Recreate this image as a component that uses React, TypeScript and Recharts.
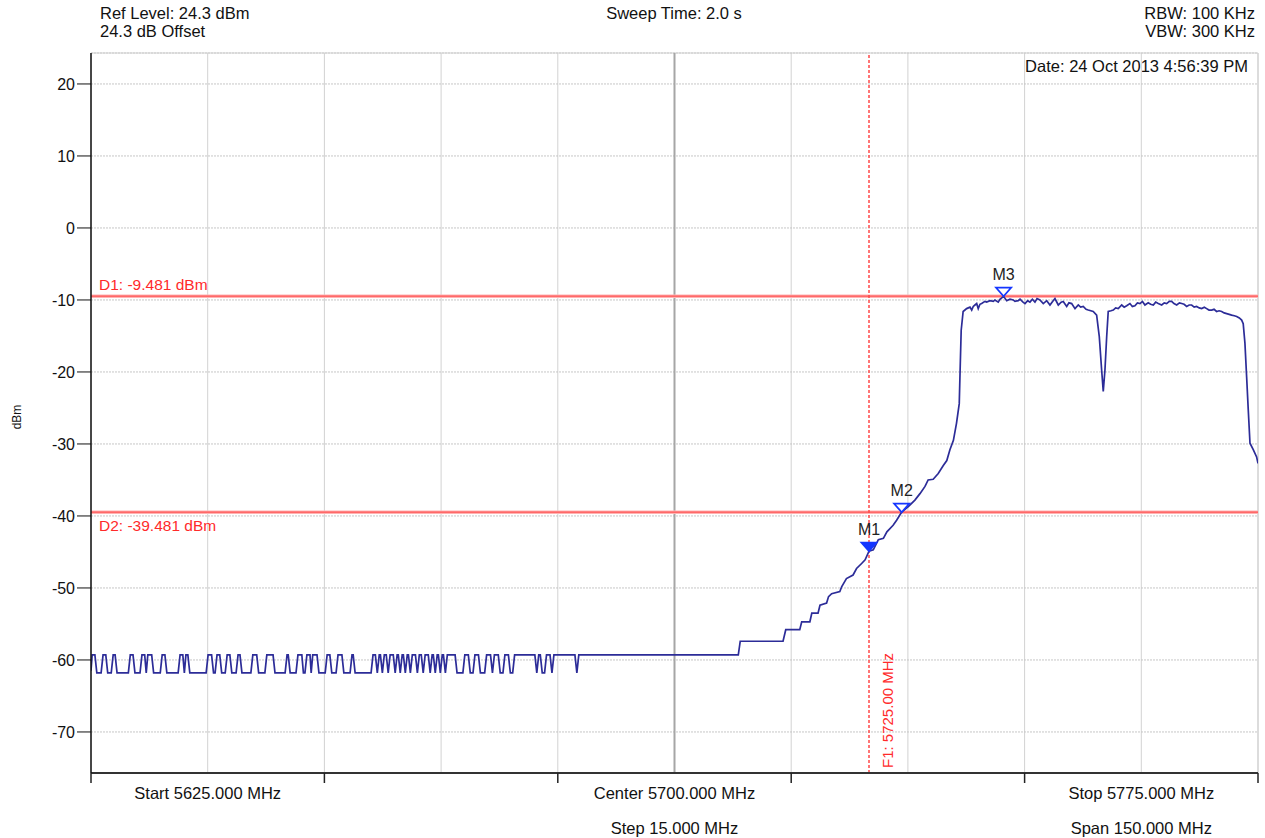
import React from 'react'
import {
  ComposedChart,
  Line,
  Scatter,
  XAxis,
  YAxis,
  CartesianGrid,
  ReferenceLine,
} from 'recharts'

const FONT = '"Liberation Sans", Arial, sans-serif'

// sweep span, MHz
const START_MHZ = 5625
const STOP_MHZ = 5775
const gridFreqs = [5625, 5640, 5655, 5670, 5685, 5700, 5715, 5730, 5745, 5760, 5775]
const majorFreqs = [5625, 5655, 5685, 5715, 5745, 5775]
const labelFreqs = [5640, 5700, 5760]
const labelTop = ['Start 5625.000 MHz', 'Center 5700.000 MHz', 'Stop 5775.000 MHz']
const labelBottom = ['', 'Step 15.000 MHz', 'Span 150.000 MHz']

// amplitude, dBm
const REF_LEVEL = 24.3
const BOTTOM_LEVEL = -75.7
const levelTicks = [20, 10, 0, -10, -20, -30, -40, -50, -60, -70]

const headerLeft = ['Ref Level: 24.3 dBm', '24.3 dB Offset']
const headerCenter = 'Sweep Time: 2.0 s'
const headerRight = ['RBW: 100 KHz', 'VBW: 300 KHz']
const dateText = 'Date: 24 Oct 2013 4:56:39 PM'

// display lines
const deltaNames = ['D1: -9.481 dBm', 'D2: -39.481 dBm']
const deltaLevels = [-9.481, -39.481]
const f1Freq = 5725
const f1Label = 'F1: 5725.00 MHz'

// markers
const markerNames = ['M1', 'M2', 'M3']
const markerFreqs = [5725.0, 5729.2, 5742.3]
const markerLevels = [-44.9, -39.481, -9.481]
const markerFilled = [true, false, false]

// trace, [MHz, dBm]
const floorTrace: [number, number][] = [
  [5625.0, -61.5], [5625.15, -59.3], [5625.5, -59.3], [5625.75, -61.8],
  [5626.3, -61.8], [5626.55, -59.3], [5626.9, -59.3], [5627.15, -61.8],
  [5627.6, -61.8], [5627.85, -59.3], [5628.1, -59.3], [5628.35, -61.8],
  [5629.8, -61.8], [5630.05, -59.3], [5630.4, -59.3], [5630.65, -61.8],
  [5631.3, -61.8], [5631.55, -59.3], [5631.9, -59.3], [5632.1, -61.8], [5632.3, -59.3], [5632.8, -59.3], [5633.05, -61.8],
  [5633.9, -61.8], [5634.15, -59.3], [5634.5, -59.3], [5634.75, -61.8],
  [5636.2, -61.8], [5636.45, -59.3], [5636.8, -59.3], [5637.0, -61.8], [5637.2, -59.3], [5637.45, -59.3], [5637.7, -61.8],
  [5639.8, -61.8], [5640.05, -59.3], [5640.5, -59.3], [5640.75, -61.8], [5640.95, -61.8], [5641.2, -59.3], [5641.55, -59.3], [5641.8, -61.8],
  [5642.25, -61.8], [5642.5, -59.3], [5642.85, -59.3], [5643.1, -61.8],
  [5643.65, -61.8], [5643.9, -59.3], [5644.15, -59.3], [5644.4, -61.8],
  [5645.55, -61.8], [5645.8, -59.3], [5646.3, -59.3], [5646.55, -61.8],
  [5647.35, -61.8], [5647.6, -59.3], [5648.4, -59.3], [5648.65, -61.8],
  [5649.95, -61.8], [5650.2, -59.3], [5650.35, -59.3], [5650.6, -61.8],
  [5651.35, -61.8], [5651.6, -59.3], [5652.1, -59.3], [5652.3, -61.8], [5652.5, -61.8], [5652.75, -59.3], [5653.15, -59.3], [5653.3, -61.8], [5653.5, -59.3], [5654.05, -59.3], [5654.3, -61.8],
  [5655.1, -61.8], [5655.35, -59.3], [5655.7, -59.3], [5655.95, -61.8],
  [5656.5, -61.8], [5656.75, -59.3], [5657.25, -59.3], [5657.5, -61.8],
  [5658.3, -61.8], [5658.55, -59.3], [5658.7, -59.3], [5658.95, -61.8],
  [5661.0, -61.8], [5661.25, -59.3], [5661.55, -59.3], [5661.8, -61.8], [5662.05, -59.3], [5662.2, -59.3], [5662.45, -61.8], [5662.7, -59.3],
  [5662.95, -59.3], [5663.2, -61.8], [5663.45, -59.3], [5663.85, -59.3], [5664.1, -61.8], [5664.35, -59.3], [5664.5, -59.3], [5664.75, -61.8],
  [5665.0, -59.3], [5665.15, -59.3], [5665.4, -61.8], [5665.65, -59.3], [5665.8, -59.3], [5666.05, -61.8], [5666.3, -59.3], [5666.7, -59.3],
  [5666.95, -61.8], [5667.2, -59.3], [5667.45, -59.3], [5667.7, -61.8], [5667.95, -59.3], [5668.35, -59.3], [5668.6, -61.8], [5668.85, -59.3],
  [5669.0, -59.3], [5669.25, -61.8], [5669.5, -59.3], [5669.65, -59.3], [5669.9, -61.8], [5670.15, -59.3], [5670.3, -59.3], [5670.55, -61.8], [5670.8, -59.3],
  [5671.8, -59.3], [5672.05, -61.8], [5672.8, -61.8], [5673.05, -59.3], [5673.5, -59.3], [5673.75, -61.8], [5674.1, -61.8], [5674.35, -59.3],
  [5674.8, -59.3], [5675.05, -61.8], [5675.6, -61.8], [5675.85, -59.3], [5676.35, -59.3], [5676.6, -61.8], [5676.85, -59.3], [5677.35, -59.3],
  [5677.6, -61.8], [5677.95, -61.8], [5678.2, -59.3], [5678.65, -59.3], [5678.9, -61.8], [5679.2, -61.8], [5679.45, -59.3],
  [5682.05, -59.3], [5682.3, -61.8], [5682.55, -59.3], [5682.75, -59.3], [5683.0, -61.8], [5683.3, -61.8], [5683.55, -59.3], [5684.0, -59.3], [5684.25, -61.8], [5684.5, -59.3],
  [5687.2, -59.3], [5687.45, -61.8], [5687.7, -59.3],
]

const skirtTrace: [number, number][] = [
  [5708.2, -59.3], [5708.45, -57.4], [5713.95, -57.4], [5714.3, -55.8], [5716.1, -55.8], [5716.35, -54.7],
  [5717.4, -54.7], [5717.65, -53.5], [5718.45, -53.5], [5718.7, -52.4], [5719.55, -52.1], [5719.8, -51.2],
  [5720.2, -50.8], [5721.25, -50.5], [5721.5, -49.8], [5722.1, -48.7], [5722.95, -48.2], [5723.4, -47.3],
  [5724.05, -46.6], [5724.5, -46.1], [5725.0, -44.9], [5725.55, -44.7], [5726.2, -43.3], [5726.85, -43.1],
  [5727.3, -42.2], [5728.1, -41.3], [5728.55, -40.6], [5729.2, -39.45], [5730.05, -38.7], [5730.9, -37.8],
  [5731.55, -36.9], [5732.2, -35.9], [5732.6, -35.0], [5733.25, -34.9], [5733.9, -34.1], [5734.55, -33.0],
  [5735.0, -32.3], [5735.4, -30.8], [5735.85, -29.5], [5736.25, -27.1], [5736.6, -24.4], [5736.7, -20.2],
  [5736.85, -14.2], [5737.1, -11.6],
]

const bandTrace: [number, number][] = [
  [5737.55, -11.2], [5737.98, -11.0], [5738.2, -11.4], [5738.4, -10.9], [5738.62, -10.7], [5738.84, -10.5],
  [5739.04, -11.2], [5739.26, -10.6], [5739.48, -10.5], [5739.9, -10.2], [5740.12, -10.3], [5740.55, -10.1],
  [5740.97, -10.2], [5741.19, -10.0], [5741.61, -10.3], [5741.83, -9.9], [5742.3, -9.5], [5742.7, -10.1],
  [5743.12, -9.9], [5743.54, -10.0], [5743.76, -10.2], [5744.18, -10.1], [5744.41, -9.9], [5744.8, -10.3],
  [5745.05, -10.5], [5745.4, -10.1], [5745.69, -10.3], [5746.0, -9.9], [5746.33, -10.3], [5746.6, -9.8],
  [5746.97, -10.0], [5747.4, -10.5], [5747.84, -10.1], [5748.26, -10.7], [5748.6, -10.2], [5748.9, -9.8],
  [5749.33, -10.7], [5749.7, -10.3], [5749.97, -10.2], [5750.41, -10.9], [5750.7, -10.4], [5751.05, -10.5],
  [5751.48, -11.2], [5751.9, -10.7], [5752.2, -11.0], [5752.54, -10.9], [5752.9, -11.3], [5753.18, -11.4],
  [5753.82, -11.6], [5754.26, -12.1], [5754.6, -15.1], [5754.9, -19.7], [5755.11, -22.7], [5755.33, -19.7],
  [5755.55, -15.1], [5755.75, -11.6], [5756.1, -11.5], [5756.4, -11.4], [5756.7, -11.1], [5757.04, -11.2],
  [5757.48, -10.7], [5757.8, -11.0], [5758.12, -10.8], [5758.54, -10.5], [5758.85, -10.9], [5759.18, -10.8],
  [5759.5, -10.4], [5759.83, -10.5], [5760.15, -10.2], [5760.47, -10.7], [5760.89, -10.4], [5761.2, -10.6],
  [5761.54, -10.7], [5761.85, -10.3], [5762.18, -10.5], [5762.62, -10.7], [5762.95, -10.4], [5763.26, -10.5],
  [5763.6, -10.2], [5763.9, -10.2], [5764.2, -10.5], [5764.55, -10.7], [5764.9, -10.4], [5765.19, -10.5],
  [5765.5, -10.6], [5765.83, -10.9], [5766.15, -10.7], [5766.47, -10.7], [5766.8, -11.0], [5767.11, -10.9],
  [5767.45, -11.1], [5767.76, -11.2], [5768.1, -11.0], [5768.4, -11.2], [5768.7, -11.4], [5769.04, -11.4],
  [5769.35, -11.3], [5769.68, -11.6], [5770.0, -11.5], [5770.33, -11.6], [5770.65, -11.8], [5770.97, -11.9],
  [5771.3, -12.0], [5771.61, -12.1], [5771.95, -12.2], [5772.26, -12.3], [5772.6, -12.5], [5772.9, -12.8],
  [5773.1, -13.3], [5773.32, -16.0], [5773.54, -20.7], [5773.75, -25.3], [5773.97, -29.9], [5774.39, -30.8],
  [5774.82, -31.8], [5775.0, -32.7],
]

const trace = [...floorTrace, ...skirtTrace, ...bandTrace].map(([f, v]) => ({ f, v }))
const markers = markerNames.map((name, i) => ({
  name,
  f: markerFreqs[i],
  v: markerLevels[i],
  filled: markerFilled[i],
}))

const RED = '#ff2a2a'
const BLUE = '#1436ff'

function FreqTick(props: any) {
  const { x, y, payload } = props
  const v = payload.value
  const li = labelFreqs.indexOf(v)
  return (
    <g>
      {majorFreqs.includes(v) && <line x1={x} y1={y} x2={x} y2={y + 10} stroke="#222" strokeWidth={1.5} />}
      {li >= 0 && (
        <text x={x} y={y + 26} textAnchor="middle" fontSize={16.5} fill="#111" fontFamily={FONT}>
          {labelTop[li]}
        </text>
      )}
      {li >= 0 && labelBottom[li] && (
        <text x={x} y={y + 61} textAnchor="middle" fontSize={16.5} fill="#111" fontFamily={FONT}>
          {labelBottom[li]}
        </text>
      )}
    </g>
  )
}

function MarkerShape(props: any) {
  const { cx, cy, payload } = props
  return (
    <g>
      <polygon
        points={`${cx - 7.5},${cy - 8.5} ${cx + 7.5},${cy - 8.5} ${cx},${cy}`}
        fill={payload.filled ? BLUE : '#fff'}
        stroke={BLUE}
        strokeWidth={1.8}
      />
      <text x={cx} y={cy - 16} textAnchor="middle" fontSize={16} fill="#222" fontFamily={FONT}>
        {payload.name}
      </text>
    </g>
  )
}

function DeltaLabel(props: any) {
  const { viewBox, text, below } = props
  return (
    <text x={viewBox.x + 8} y={below ? viewBox.y + 19 : viewBox.y - 6} fontSize={15.5} fill={RED} fontFamily={FONT}>
      {text}
    </text>
  )
}

function F1Text(props: any) {
  const { viewBox } = props
  const x = viewBox.x + 24
  const y = viewBox.y + viewBox.height - 5
  return (
    <text x={x} y={y} transform={`rotate(-90, ${x}, ${y})`} fontSize={15} fill={RED} fontFamily={FONT}>
      {f1Label}
    </text>
  )
}

const textStyle: React.CSSProperties = {
  position: 'absolute',
  fontSize: 16.5,
  lineHeight: '18px',
  color: '#111',
  whiteSpace: 'nowrap',
}

export default function App() {
  return (
    <div style={{ position: 'fixed', left: 0, top: 0, width: 1265, height: 838, background: '#fff', fontFamily: FONT }}>
      <div style={{ ...textStyle, left: 100, top: 4 }}>
        {headerLeft[0]}
        <br />
        {headerLeft[1]}
      </div>
      <div style={{ ...textStyle, left: 674, top: 4, transform: 'translateX(-50%)' }}>{headerCenter}</div>
      <div style={{ ...textStyle, right: 10, top: 4, textAlign: 'right' }}>
        {headerRight[0]}
        <br />
        {headerRight[1]}
      </div>
      <div style={{ ...textStyle, right: 17, top: 57 }}>{dateText}</div>
      <div style={{ ...textStyle, fontSize: 12, left: 5, top: 408, transform: 'rotate(-90deg)' }}>dBm</div>

      <ComposedChart width={1265} height={838} margin={{ top: 53, right: 7, bottom: 0, left: 0 }}>
        <CartesianGrid horizontal={false} stroke="#d2d2d2" strokeWidth={1} />
        <CartesianGrid vertical={false} stroke="#c6c6c6" strokeDasharray="2 1" />
        <XAxis
          type="number"
          dataKey="f"
          domain={[START_MHZ, STOP_MHZ]}
          ticks={gridFreqs}
          interval={0}
          height={65}
          tickLine={false}
          tickSize={0}
          tickMargin={0}
          axisLine={{ stroke: '#333', strokeWidth: 2 }}
          tick={<FreqTick />}
          allowDataOverflow
        />
        <YAxis
          type="number"
          domain={[BOTTOM_LEVEL, REF_LEVEL]}
          ticks={levelTicks}
          interval={0}
          width={91}
          tickSize={14}
          tickMargin={2}
          tickLine={{ stroke: '#111' }}
          axisLine={{ stroke: '#111', strokeWidth: 1.5 }}
          tick={{ fontSize: 16, fill: '#111', fontFamily: FONT }}
          allowDataOverflow
        />
        <ReferenceLine y={REF_LEVEL} stroke="#cfcfcf" />
        <ReferenceLine x={STOP_MHZ} stroke="#cfcfcf" />
        <ReferenceLine x={5700} stroke="#a6a6a6" strokeWidth={2} />
        {deltaLevels.map((lvl) => (
          <ReferenceLine key={'h' + lvl} y={lvl} stroke="#ffb4b4" strokeWidth={3.5} />
        ))}
        {deltaLevels.map((lvl, i) => (
          <ReferenceLine
            key={'d' + lvl}
            y={lvl}
            stroke="#ff5050"
            strokeWidth={1.2}
            label={<DeltaLabel text={deltaNames[i]} below={i === 1} />}
          />
        ))}
        <ReferenceLine x={f1Freq} stroke="#ff4848" strokeWidth={1.5} strokeDasharray="3 2" label={<F1Text />} />
        <Line
          data={trace}
          dataKey="v"
          type="linear"
          stroke="#2c2c98"
          strokeWidth={1.7}
          dot={false}
          isAnimationActive={false}
        />
        <Scatter data={markers} dataKey="v" shape={<MarkerShape />} isAnimationActive={false} />
      </ComposedChart>
    </div>
  )
}
